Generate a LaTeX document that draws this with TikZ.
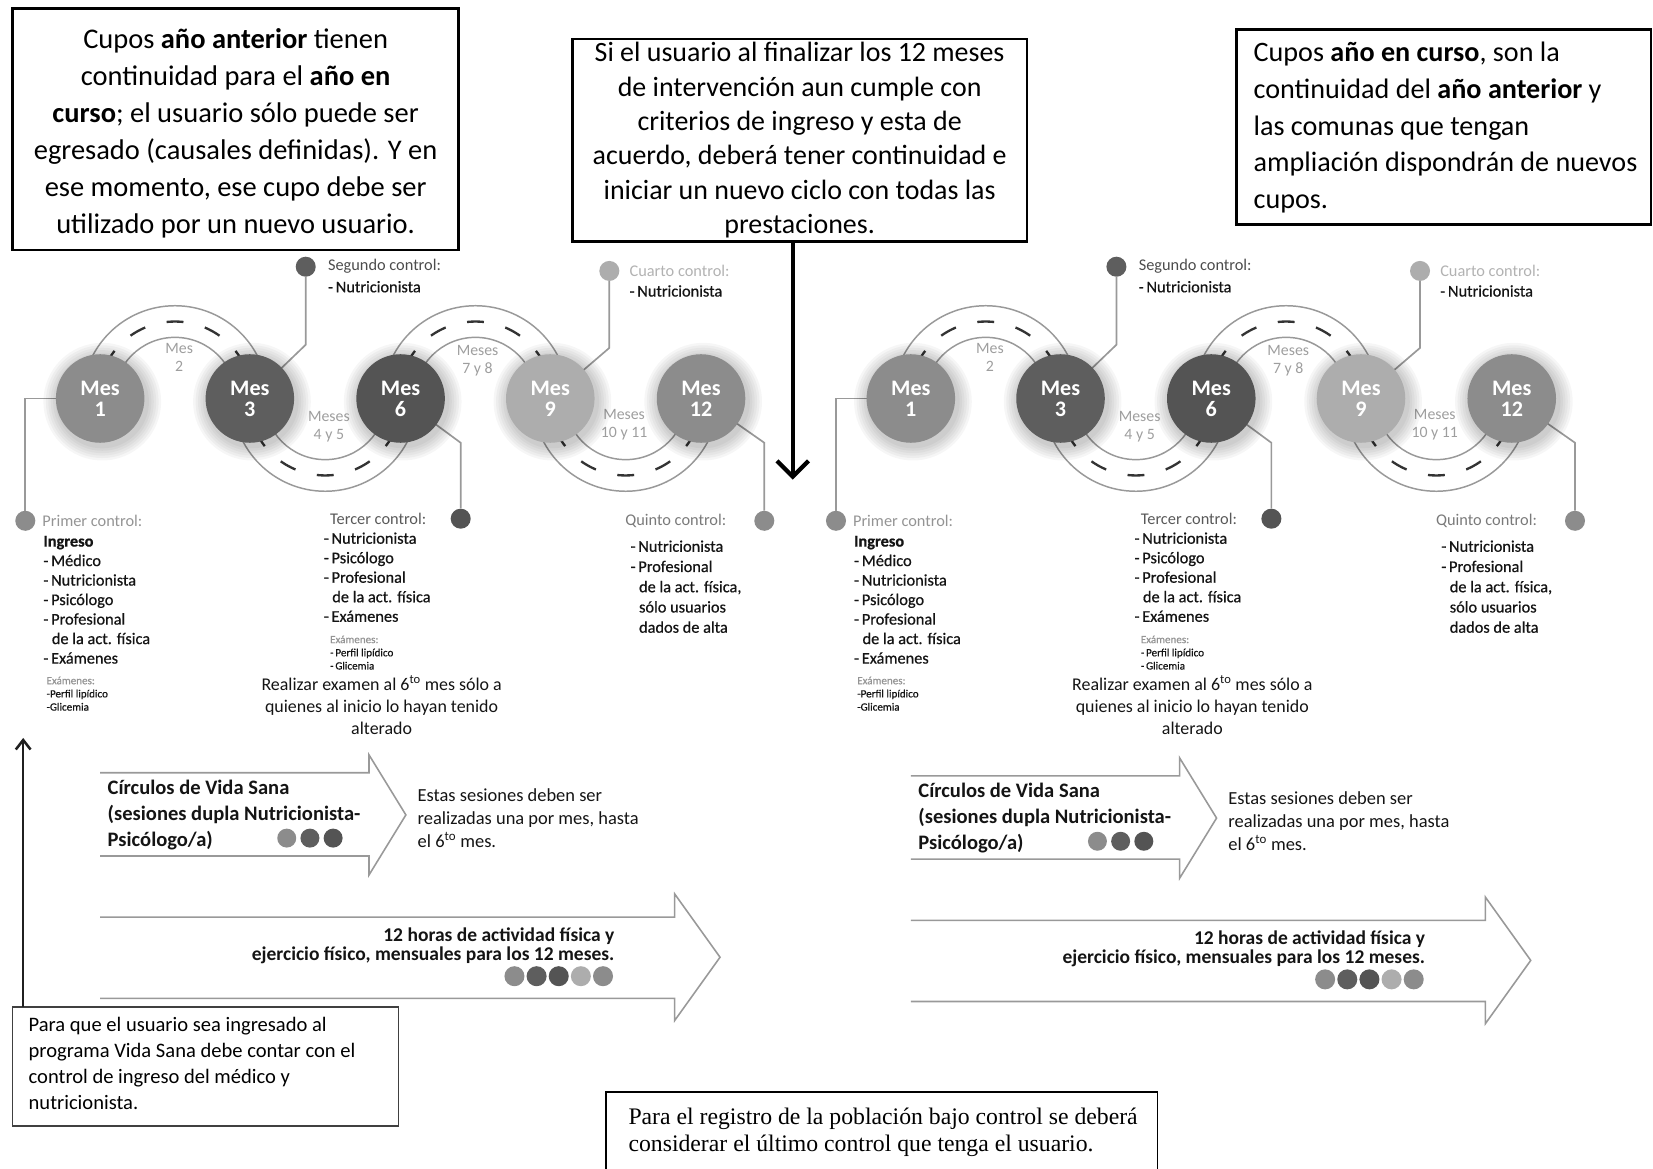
\documentclass[tikz,border=0pt]{standalone}
\usepackage{fontspec}
\setmainfont{Carlito}
\newfontfamily\serifbox{Liberation Serif}
\newfontfamily\itemfont[FakeBold=0.6]{Carlito}
\usetikzlibrary{arrows.meta,calc}
\definecolor{cA}{gray}{0.55}
\definecolor{cB}{gray}{0.37}
\definecolor{cC}{gray}{0.33}
\definecolor{cD}{gray}{0.68}
\definecolor{cE}{gray}{0.55}
\definecolor{hA}{gray}{0.58}
\definecolor{hB}{gray}{0.3}
\definecolor{hC}{gray}{0.35}
\definecolor{hD}{gray}{0.7}
\definecolor{hE}{gray}{0.48}
\definecolor{lbl}{gray}{0.62}
\definecolor{edgec}{gray}{0.6}
\definecolor{dashc}{gray}{0.2}
\definecolor{txt}{gray}{0.08}

\tikzset{
 infobox/.style={draw=black,line width=2.2pt,inner sep=0pt},
 mescircle/.style={circle,minimum size=84pt,inner sep=0pt,text=white,align=center,font=\fontsize{21}{20}\selectfont\bfseries},
 ctrldot/.style={circle,minimum size=19pt,inner sep=0pt},
 smalldot/.style={circle,minimum size=18pt,inner sep=0pt},
 leader/.style={draw=edgec,line width=1.6pt},
 roadedge/.style={draw=edgec,line width=1.4pt},
 roaddash/.style={draw=dashc,line width=2.2pt,dash pattern=on 16pt off 21pt,dash phase=4.3pt},
 roadlabel/.style={text=lbl,align=center,inner sep=0pt,font=\fontsize{15}{17}\selectfont},
 head/.style={anchor=west,inner sep=0pt,font=\fontsize{15.5}{18.5}\selectfont},
 items/.style={anchor=west,inner sep=0pt,align=left,text=txt,font=\itemfont\fontsize{15.5}{18.5}\selectfont},
 tiny/.style={anchor=west,inner sep=0pt,align=left,text=txt,font=\itemfont\fontsize{10.5}{12.5}\selectfont},
 blockarrow/.style={draw=gray!80,line width=1.5pt,line join=miter},
}

\newcommand\road[2]{%
 \pgfmathsetmacro\endang{180-180*#2}%
 \fill[white] ({#1-88},378) arc[start angle=180,end angle=\endang,radius=88pt] -- ({#1+58},378) arc[start angle=\endang,end angle=180,radius=58pt] -- cycle;
 \draw[roadedge] ({#1-88},378) arc[start angle=180,end angle=\endang,radius=88pt];
 \draw[roadedge] ({#1-58},378) arc[start angle=180,end angle=\endang,radius=58pt];
 \draw[roaddash] ({#1-73},378) arc[start angle=180,end angle=\endang,radius=73pt];
}
\newcommand\halo[1]{%
 \foreach \k in {1,...,6}{\fill[black,opacity=0.035] ($(#1)+(2,3)$) circle[radius={42pt+\k*2.3pt}];}%
}

\newcommand\yearblock[3]{%
\begin{scope}[xshift=#1pt]
\road{166}{1}\road{308.5}{-1}\road{451}{1}\road{593.5}{-1}
\node[roadlabel] (#2r2) at (170,339) {Mes\\2};
\node[roadlabel] (#2r45) at (312,405) {Meses\\4 y 5};
\node[roadlabel] (#2r78) at (453,342) {Meses\\7 y 8};
\node[roadlabel] (#2r1011) at (592,403) {Meses\\10 y 11};
\coordinate (#2c1) at (95,378);
\coordinate (#2c3) at (237,378);
\coordinate (#2c6) at (380,378);
\coordinate (#2c9) at (522,378);
\coordinate (#2c12) at (665,378);
\node[ctrldot,fill=cA] (#2d1) at (24,494) {};
\node[ctrldot,fill=cB] (#2d2) at (290,253) {};
\node[ctrldot,fill=cC] (#2d3) at (437,492) {};
\node[ctrldot,fill=cD] (#2d4) at (578,257) {};
\node[ctrldot,fill=cE] (#2d5) at (725,494) {};
\draw[leader] (#2c1) -- (24,378) -- (#2d1);
\draw[leader] (#2d2) -- (290,327) -- (#2c3);
\draw[leader] (#2c6) -- (437,420) -- (#2d3);
\draw[leader] (#2d4) -- (578,330) -- (#2c9);
\draw[leader] (#2c12) -- (725,420) -- (#2d5);
\halo{#2c1}\halo{#2c3}\halo{#2c6}\halo{#2c9}\halo{#2c12}
\node[mescircle,fill=cA] (#2m1) at (#2c1) {Mes\\1};
\node[mescircle,fill=cB] (#2m3) at (#2c3) {Mes\\3};
\node[mescircle,fill=cC] (#2m6) at (#2c6) {Mes\\6};
\node[mescircle,fill=cD] (#2m9) at (#2c9) {Mes\\9};
\node[mescircle,fill=cE] (#2m12) at (#2c12) {Mes\\12};
\node[head,text=hB] (#2h2) at (311,253) {Segundo control:};
\node[head,text=txt,font=\itemfont\fontsize{15.5}{18.5}\selectfont] (#2t2) at (311,272) {-\,Nutricionista};
\node[head,text=hD] (#2h4) at (597,257) {Cuarto control:};
\node[head,text=txt,font=\itemfont\fontsize{15.5}{18.5}\selectfont] (#2t4) at (597,276) {-\,Nutricionista};
\node[head,text=hA] (#2h1) at (40,494) {Primer control:};
\node[items] (#2t1) at (41,569) {\textbf{Ingreso}\\-\,Médico\\-\,Nutricionista\\-\,Psicólogo\\-\,Profesional\\\hspace*{8pt}de la act. física\\-\,Exámenes};
\node[tiny] (#2x1) at (44,658) {{\color{hA}Exámenes:}\\-Perfil lipídico\\-Glicemia};
\node[head,text=hC] (#2h3) at (313,492) {Tercer control:};
\node[items] (#2t3) at (307,547.5) {-\,Nutricionista\\-\,Psicólogo\\-\,Profesional\\\hspace*{8pt}de la act. física\\-\,Exámenes};
\node[tiny] (#2x3) at (313,619) {{\color{hA}Exámenes:}\\-\,Perfil lipídico\\-\,Glicemia};
\node[anchor=center,align=center,inner sep=0pt,text=txt,font=\fontsize{17}{21}\selectfont] (#2rz) at (362,669) {Realizar examen al 6\textsuperscript{to} mes sólo a\\quienes al inicio lo hayan tenido\\alterado};
\node[head,text=hE] (#2h5) at (593,494) {Quinto control:};
\node[items,font=\itemfont\fontsize{15.5}{19.2}\selectfont] (#2t5) at (598,556.5) {-\,Nutricionista\\-\,Profesional\\\hspace*{8pt}de la act. física,\\\hspace*{8pt}sólo usuarios\\\hspace*{8pt}dados de alta};
\begin{scope}[yshift=-#3pt]
\draw[blockarrow] (95,733) -- (350,733) -- (350,716) -- (385,773) -- (350,830) -- (350,812) -- (95,812);
\node[anchor=west,align=left,inner sep=0pt,text=txt,font=\fontsize{19.5}{25}\selectfont\bfseries] (#2cv) at (102,773) {Círculos de Vida Sana\\(sesiones dupla Nutricionista-\\Psicólogo/a)};
\node[smalldot,fill=cA] (#2p1) at (272,795) {};
\node[smalldot,fill=cB] (#2p2) at (294,795) {};
\node[smalldot,fill=cC] (#2p3) at (316,795) {};
\node[anchor=west,align=left,inner sep=0pt,text=txt,font=\fontsize{17.5}{21.5}\selectfont] (#2es) at (396,776) {Estas sesiones deben ser\\realizadas una por mes, hasta\\el 6\textsuperscript{to} mes.};
\draw[blockarrow] (95,870) -- (640,870) -- (640,848) -- (683,908) -- (640,968) -- (640,947) -- (95,947);
\node[anchor=east,align=right,inner sep=0pt,text=txt,font=\fontsize{18.5}{18.5}\selectfont\bfseries] (#2hz) at (583,897) {12 horas de actividad física y\\ejercicio físico, mensuales para los 12 meses.};
\node[smalldot,minimum size=19pt,fill=cA] (#2q1) at (488,926) {};
\node[smalldot,minimum size=19pt,fill=cB] (#2q2) at (509,926) {};
\node[smalldot,minimum size=19pt,fill=cC] (#2q3) at (530,926) {};
\node[smalldot,minimum size=19pt,fill=cD] (#2q4) at (551,926) {};
\node[smalldot,minimum size=19pt,fill=cE] (#2q5) at (572,926) {};
\end{scope}
\end{scope}}

\begin{document}
\begin{tikzpicture}[x=1pt,y=-1pt]
\useasboundingbox (0,0) rectangle (1568,1108);
\clip (0,0) rectangle (1568,1108);
\yearblock{0}{L}{0}
\yearblock{769}{R}{3}
% top boxes
\node[infobox,minimum width=423pt,minimum height=229pt] (tl) at (223.5,122.5) {};
\node[align=center,inner sep=0pt,font=\fontsize{27}{35}\selectfont] (tlt) at (223.5,126.5)
 {Cupos \textbf{año anterior} tienen\\continuidad para el \textbf{año en}\\\textbf{curso}; el usuario sólo puede ser\\egresado (causales definidas). Y en\\ese momento, ese cupo debe ser\\utilizado por un nuevo usuario.};
\node[infobox,minimum width=431pt,minimum height=192pt,align=center,font=\fontsize{26.5}{32.6}\selectfont] (cb) at (758.5,133)
 {Si el usuario al finalizar los 12 meses\\de intervención aun cumple con\\criterios de ingreso y esta de\\acuerdo, deberá tener continuidad e\\iniciar un nuevo ciclo con todas las\\prestaciones.};
\node[infobox,minimum width=393pt,minimum height=185pt] (tr) at (1369.5,120.5) {};
\node[anchor=west,align=left,inner sep=0pt,font=\fontsize{26.7}{35}\selectfont] (trt) at (1189,121)
 {Cupos \textbf{año en curso}, son la\\continuidad del \textbf{año anterior} y\\las comunas que tengan\\ampliación dispondrán de nuevos\\cupos.};
% central arrow
\coordinate (cbs) at (752,229);
\coordinate (cbe) at (752,455);
\draw[line width=4pt,-{Straight Barb[length=15pt,width=30pt]}] (cbs) -- (cbe);
% bottom boxes
\node[draw=gray!50!black,line width=1.4pt,minimum width=366pt,minimum height=113pt,inner sep=0pt] (bl) at (195,1011.5) {};
\node[anchor=west,align=left,inner sep=0pt,font=\fontsize{19.5}{24.7}\selectfont] (blt) at (27,1009)
 {Para que el usuario sea ingresado al\\programa Vida Sana debe contar con el\\control de ingreso del médico y\\nutricionista.};
\coordinate (blup) at (22,955);
\coordinate (bltop) at (22,700);
\draw[line width=2.4pt,draw=gray!25!black,-{Straight Barb[length=9pt,width=14pt]}] (blup) -- (bltop);
\node[draw=black,line width=1.5pt,minimum width=523pt,minimum height=82pt,inner sep=0pt] (bc) at (836.5,1077) {};
\node[anchor=west,align=left,inner sep=0pt,font=\serifbox\fontsize{22.5}{26}\selectfont] (bct) at (596,1074)
 {Para el registro de la población bajo control se deberá\\considerar el último control que tenga el usuario.};
\end{tikzpicture}
\end{document}
